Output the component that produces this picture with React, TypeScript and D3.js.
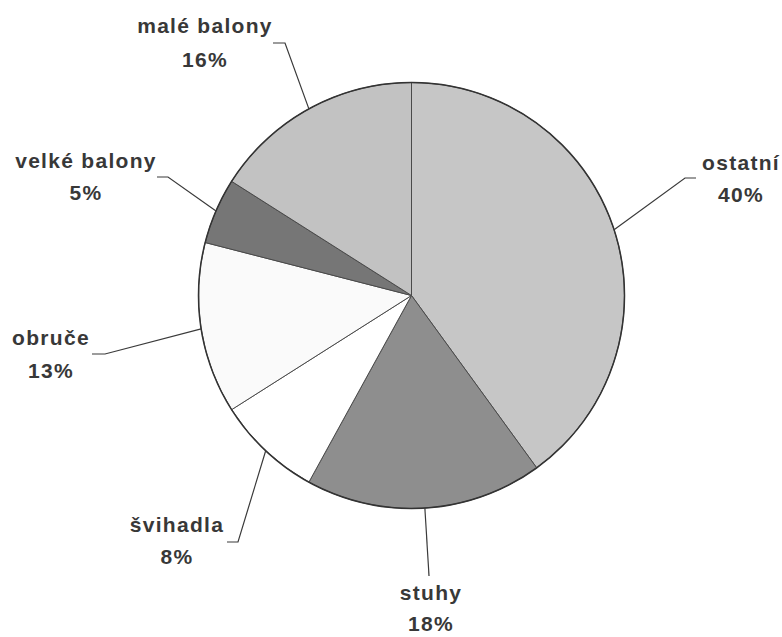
import React from "react";
import * as d3 from "d3";

const categories = ["ostatní", "stuhy", "švihadla", "obruče", "velké balony", "malé balony"];
const values = [40, 18, 8, 13, 5, 16];
const fills = ["#c6c6c6", "#8e8e8e", "#ffffff", "#fafafa", "#767676", "#c2c2c2"];

// label layout: text centre x, first baseline y, line gap, elbow point, horizontal end x
const labelLayout = [
  { tx: 741, ty: 170, gap: 32, ex: 685, ey: 178, hx: 696 },
  { tx: 431, ty: 600, gap: 31, ex: 429, ey: 576, hx: 429 },
  { tx: 177, ty: 532, gap: 32, ex: 238, ey: 542, hx: 227 },
  { tx: 51, ty: 345, gap: 33, ex: 105, ey: 354, hx: 92 },
  { tx: 86, ty: 168, gap: 32, ex: 168, ey: 177, hx: 157 },
  { tx: 205, ty: 33, gap: 34, ex: 285, ey: 43, hx: 273 },
];

const W = 782;
const H = 637;
const cx = 411.5;
const cy = 295.5;
const R = 213;

export default function App() {
  const data = categories.map((c, i) => ({ c, v: values[i], i }));
  const pie = d3.pie<any>().value((d) => d.v).sort(null);
  const arcs = pie(data);
  const arc = d3.arc<any>().innerRadius(0).outerRadius(R);

  return (
    <svg
      width={W}
      height={H}
      style={{ position: "absolute", left: 0, top: 0, background: "#fff" }}
      fontFamily="'Liberation Sans', Arial, sans-serif"
    >
      <rect width={W} height={H} fill="#fff" />
      <g transform={`translate(${cx},${cy})`}>
        {arcs.map((a, i) => (
          <path key={i} d={arc(a) as string} fill={fills[i]} stroke="#4a4a4a" strokeWidth={1} />
        ))}
        <circle r={R} fill="none" stroke="#333" strokeWidth={1.5} />
      </g>
      {arcs.map((a, i) => {
        const mid = (a.startAngle + a.endAngle) / 2;
        const sx = cx + R * Math.sin(mid);
        const sy = cy - R * Math.cos(mid);
        const L = labelLayout[i];
        return (
          <g key={"l" + i}>
            <polyline
              points={`${sx},${sy} ${L.ex},${L.ey} ${L.hx},${L.ey}`}
              fill="none"
              stroke="#3a3a3a"
              strokeWidth={1.2}
            />
            <text
              x={L.tx}
              y={L.ty}
              textAnchor="middle"
              fontSize={21}
              fontWeight="bold"
              letterSpacing={1.3}
              fill="#383838"
            >
              {categories[i]}
            </text>
            <text
              x={L.tx}
              y={L.ty + L.gap}
              textAnchor="middle"
              fontSize={21}
              fontWeight="bold"
              letterSpacing={1.3}
              fill="#383838"
            >
              {values[i] + "%"}
            </text>
          </g>
        );
      })}
    </svg>
  );
}
